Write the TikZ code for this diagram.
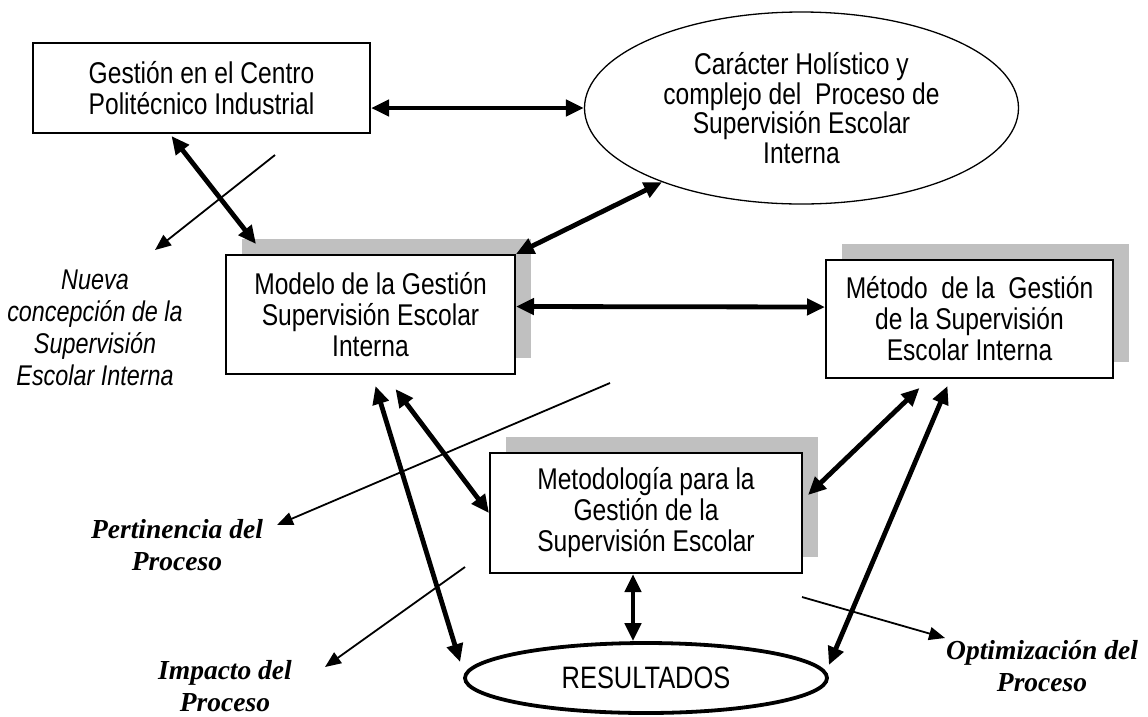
\documentclass[tikz,border=0pt]{standalone}
\usepackage{fontspec}
\setmainfont{Liberation Sans}[FakeStretch=0.82]
\newfontfamily\serifbold{Liberation Serif}
\usetikzlibrary{arrows.meta, shapes.geometric, shadows}
\definecolor{shadowgray}{RGB}{192,192,192}

\tikzset{
  boxtext/.style={font=\fontsize{30}{31}\selectfont, align=center},
  framebox/.style={boxtext, draw, line width=2pt, fill=white, inner sep=0pt,
    general shadow={fill=shadowgray, shadow xshift=16pt, shadow yshift=16pt}},
  biarrow/.style={line width=4.8pt, {Triangle[length=18pt,width=16pt]}-{Triangle[length=18pt,width=16pt]}},
  onearrow/.style={line width=1.8pt, -{Triangle[length=16pt,width=13pt]}},
  sidelabel/.style={font=\fontsize{28.5}{32}\selectfont\itshape, align=center},
  resultlabel/.style={font=\fontsize{27.5}{32}\serifbold\bfseries\itshape, align=center}
}

\begin{document}
\begin{tikzpicture}[x=1pt, y=-1pt]
    % Page
    \useasboundingbox (0,0) rectangle (1148,716);

    % Boxes and ellipses
    \node[boxtext, draw, line width=2pt, minimum width=337pt, minimum height=90pt, inner sep=0pt]
      (centro) at (201.5,88) {Gestión en el Centro\\Politécnico Industrial};
    \node[boxtext, draw, ellipse, line width=1.3pt, minimum width=434pt, minimum height=192pt, inner sep=0pt,
      font=\fontsize{30}{29.5}\selectfont]
      (holistico) at (801.5,108) {Carácter Holístico y\\complejo del\ \ Proceso de\\Supervisión Escolar\\Interna};
    \node[framebox, minimum width=289pt, minimum height=119pt]
      (modelo) at (370.5,314.5) {Modelo de la Gestión\\Supervisión Escolar\\Interna};
    \node[framebox, minimum width=287pt, minimum height=118pt]
      (metodo) at (969.5,319) {Método\ \ de la\ \ Gestión\\de la Supervisión\\Escolar Interna};
    \node[framebox, minimum width=312pt, minimum height=120pt]
      (metodologia) at (646,513) {Metodología para la\\Gestión de la\\Supervisión Escolar};
    \node[draw, ellipse, line width=3.8pt, minimum width=362pt, minimum height=70pt, inner sep=0pt,
      font=\fontsize{31}{32}\selectfont] (resultados) at (646,678) {RESULTADOS};

    % Side labels
    \node[sidelabel] (nueva) at (95,328) {Nueva\\concepción de la\\Supervisión\\Escolar Interna};
    \node[resultlabel] (pertinencia) at (177,545) {Pertinencia del\\Proceso};
    \node[resultlabel] (impacto) at (225,686) {Impacto del\\Proceso};
    \node[resultlabel] (optimizacion) at (1042,666) {Optimización del\\Proceso};

    % Free ends of the thin arrows
    \coordinate (nueva-from) at (275,155);
    \coordinate (nueva-to) at (155,250);
    \coordinate (pertinencia-from) at (610,383);
    \coordinate (pertinencia-to) at (277,525);
    \coordinate (impacto-from) at (465,567);
    \coordinate (impacto-to) at (325,667);
    \coordinate (optimizacion-from) at (802,597);
    \coordinate (optimizacion-to) at (945,638);

    % Thick relations
    \draw[biarrow] ([yshift=-20pt]centro.east) -- (holistico.west);
    \draw[biarrow] ([xshift=-30pt,yshift=-2pt]centro.south) -- ([xshift=31pt,yshift=10pt]modelo.north west);
    \draw[biarrow] (holistico.208) -- (modelo.north east);
    \draw[biarrow] ([yshift=8pt]modelo.east) -- ([yshift=12pt]metodo.west);
    \draw[biarrow] ([xshift=5pt,yshift=-11pt]modelo.south) -- ([xshift=-3pt,yshift=16pt]resultados.west);
    \draw[biarrow] ([xshift=25pt,yshift=-14pt]modelo.south) -- (metodologia.west);
    \draw[biarrow] ([xshift=-50pt,yshift=-9pt]metodo.south) -- ([xshift=5pt,yshift=18pt]metodologia.east);
    \draw[biarrow] ([xshift=-22pt,yshift=-7pt]metodo.south) -- ([yshift=13pt]resultados.east);
    \draw[biarrow] ([xshift=-13pt]metodologia.south) -- ([xshift=-13pt]resultados.north);

    % Thin arrows to the labels
    \draw[onearrow] (nueva-from) -- (nueva-to);
    \draw[onearrow] (pertinencia-from) -- (pertinencia-to);
    \draw[onearrow] (impacto-from) -- (impacto-to);
    \draw[onearrow] (optimizacion-from) -- (optimizacion-to);

  \end{tikzpicture}
\end{document}
